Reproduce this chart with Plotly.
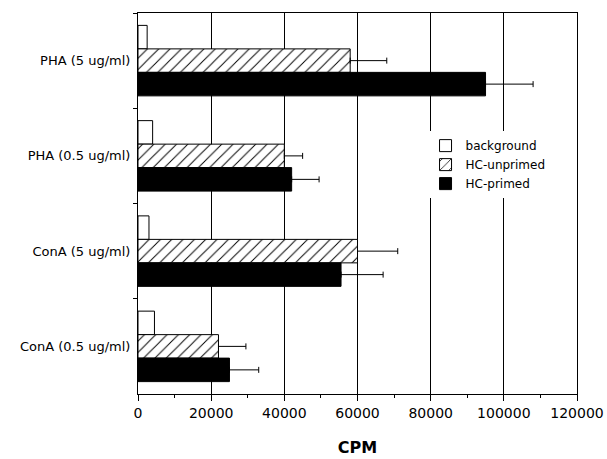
import plotly.graph_objects as go

categories = ["PHA (5 ug/ml)", "PHA (0.5 ug/ml)", "ConA (5 ug/ml)", "ConA (0.5 ug/ml)"]
background = [2500, 4000, 3000, 4500]
hc_unprimed = [58000, 40000, 60000, 22000]
hc_unprimed_err = [10000, 5000, 11000, 7500]
hc_primed = [95000, 42000, 55500, 25000]
hc_primed_err = [13000, 7500, 11500, 8000]
x_ticks = [0, 20000, 40000, 60000, 80000, 100000, 120000]

FONT = "DejaVu Sans"

fig = go.Figure()
fig.add_trace(go.Bar(
    name="background", y=categories, x=background, orientation="h",
    marker=dict(color="white", line=dict(color="black", width=1)),
))
fig.add_trace(go.Bar(
    name="HC-unprimed", y=categories, x=hc_unprimed, orientation="h",
    marker=dict(color="white", line=dict(color="black", width=1),
                pattern=dict(shape="/", fgcolor="black", bgcolor="white",
                             size=8, solidity=0.12, fillmode="replace")),
    error_x=dict(type="data", array=hc_unprimed_err, arrayminus=[0] * 4,
                 symmetric=False, color="black", thickness=1, width=3),
))
fig.add_trace(go.Bar(
    name="HC-primed", y=categories, x=hc_primed, orientation="h",
    marker=dict(color="black", line=dict(color="black", width=1)),
    error_x=dict(type="data", array=hc_primed_err, arrayminus=[0] * 4,
                 symmetric=False, color="black", thickness=1, width=3),
))

fig.update_layout(
    width=607, height=459,
    margin=dict(l=138, r=30, t=13, b=65, autoexpand=False),
    paper_bgcolor="white", plot_bgcolor="white",
    barmode="group", bargap=0.26, bargroupgap=0,
    font=dict(family=FONT, color="black", size=13),
    showlegend=True,
    legend=dict(x=0.655, y=0.69, xanchor="left", yanchor="top",
                bgcolor="white", font=dict(family=FONT, size=12, color="black"),
                tracegroupgap=0, itemwidth=30),
    xaxis=dict(
        range=[0, 120000], tickvals=x_ticks,
        ticktext=[str(v) for v in x_ticks],
        showgrid=True, gridcolor="black", gridwidth=1,
        showline=True, linecolor="black", linewidth=1, mirror=True,
        ticks="outside", ticklen=6, tickcolor="black", tickwidth=1,
        minor=dict(dtick=10000, ticks="outside", ticklen=3, tickcolor="black", showgrid=False),
        tickfont=dict(family=FONT, size=14),
        zeroline=False, automargin=False,
        title=dict(text="<b>CPM</b>", font=dict(family=FONT, size=16), standoff=22),
    ),
    yaxis=dict(
        autorange="reversed", type="category", automargin=False,
        showgrid=False, showline=True, linecolor="black", linewidth=1, mirror=True,
        ticks="outside", ticklen=4, tickcolor="black", tickson="boundaries",
        tickfont=dict(family=FONT, size=13),
        ticklabelstandoff=4,
    ),
)

fig.write_html("out.html")
